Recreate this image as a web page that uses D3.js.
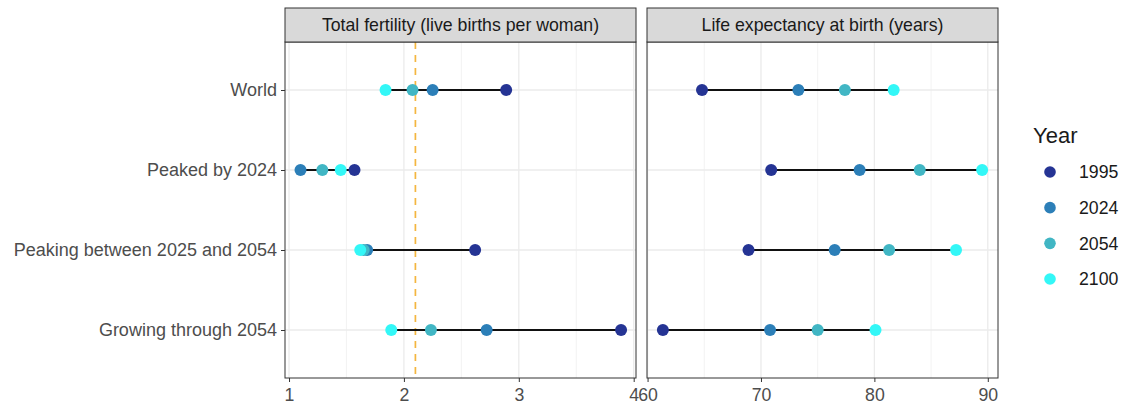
<!DOCTYPE html>
<html>
<head>
<meta charset="utf-8">
<script src="https://cdn.jsdelivr.net/npm/d3@7"></script>
<style>
  body { margin: 0; background: #fff; }
  text { font-family: "Liberation Sans", Arial, sans-serif; }
</style>
</head>
<body>
<svg id="viz_area" width="1129" height="407"></svg>
<script>
const regions = ["World", "Peaked by 2024", "Peaking between 2025 and 2054", "Growing through 2054"]
const years = ["1995", "2024", "2054", "2100"]
const yearColors = ["#253494", "#2c7fb8", "#41b6c4", "#33f7f7"]

// total fertility, one array per year, in region order
const fertility1995 = [2.89, 1.57, 2.62, 3.89]
const fertility2024 = [2.25, 1.10, 1.68, 2.72]
const fertility2054 = [2.075, 1.29, 1.65, 2.235]
const fertility2100 = [1.84, 1.45, 1.62, 1.89]

// life expectancy at birth, one array per year
const life1995 = [64.8, 70.9, 68.9, 61.35]
const life2024 = [73.3, 78.7, 76.5, 70.8]
const life2054 = [77.4, 84.0, 81.3, 75.0]
const life2100 = [81.7, 89.5, 87.2, 80.1]

const fertilityTicks = [1, 2, 3, 4]
const lifeTicks = [60, 70, 80, 90]
const replacementLevel = 2.1

const panelTop = 42, panelBottom = 378, stripTop = 8
const fontSize = 17.7

const svg = d3.select('#viz_area')

const yScale = d3.scalePoint()
  .domain(regions)
  .range([panelTop, panelBottom])
  .padding(0.6)

function buildRows(series) {
  return regions.map(function (r, i) {
    return { region: r, values: series.map(function (s, j) { return { year: years[j], value: s[i] } }) }
  })
}

function drawPanel(opts) {
  const x = d3.scaleLinear().domain(opts.domain).range([opts.left, opts.right])
  const g = svg.append('g')

  g.append('rect')
    .attr('x', opts.left).attr('y', panelTop)
    .attr('width', opts.right - opts.left).attr('height', panelBottom - panelTop)
    .attr('fill', '#fff')

  // minor grid
  g.selectAll('.minor').data(opts.minor).enter().append('line')
    .attr('x1', function (d) { return x(d) }).attr('x2', function (d) { return x(d) })
    .attr('y1', panelTop).attr('y2', panelBottom)
    .attr('stroke', '#f0f0f0').attr('stroke-width', 0.8)
  // major grid
  g.selectAll('.major').data(opts.ticks).enter().append('line')
    .attr('x1', function (d) { return x(d) }).attr('x2', function (d) { return x(d) })
    .attr('y1', panelTop).attr('y2', panelBottom)
    .attr('stroke', '#ebebeb').attr('stroke-width', 1.3)
  g.selectAll('.hgrid').data(regions).enter().append('line')
    .attr('x1', opts.left).attr('x2', opts.right)
    .attr('y1', function (d) { return yScale(d) }).attr('y2', function (d) { return yScale(d) })
    .attr('stroke', '#ebebeb').attr('stroke-width', 1.3)

  if (opts.refLine != null) {
    g.append('line')
      .attr('x1', x(opts.refLine)).attr('x2', x(opts.refLine))
      .attr('y1', panelTop).attr('y2', panelBottom)
      .attr('stroke', '#f4b63f').attr('stroke-width', 1.7)
      .attr('stroke-dasharray', '7,6')
  }

  const rows = buildRows(opts.series)

  g.selectAll('.seg').data(rows).enter().append('line')
    .attr('x1', function (d) { return x(d3.min(d.values, function (v) { return v.value })) })
    .attr('x2', function (d) { return x(d3.max(d.values, function (v) { return v.value })) })
    .attr('y1', function (d) { return yScale(d.region) })
    .attr('y2', function (d) { return yScale(d.region) })
    .attr('stroke', '#111').attr('stroke-width', 1.8)

  years.forEach(function (yr, j) {
    g.selectAll('.pt' + yr).data(rows).enter().append('circle')
      .attr('cx', function (d) { return x(d.values[j].value) })
      .attr('cy', function (d) { return yScale(d.region) })
      .attr('r', 6)
      .attr('fill', yearColors[j])
  })

  // panel border
  g.append('rect')
    .attr('x', opts.left).attr('y', panelTop)
    .attr('width', opts.right - opts.left).attr('height', panelBottom - panelTop)
    .attr('fill', 'none').attr('stroke', '#333').attr('stroke-width', 1)

  // strip
  g.append('rect')
    .attr('x', opts.left).attr('y', stripTop)
    .attr('width', opts.right - opts.left).attr('height', panelTop - stripTop)
    .attr('fill', '#d9d9d9').attr('stroke', '#333').attr('stroke-width', 1)
  g.append('text')
    .attr('x', (opts.left + opts.right) / 2).attr('y', (stripTop + panelTop) / 2)
    .attr('dy', '0.35em').attr('text-anchor', 'middle')
    .attr('font-size', fontSize).attr('fill', '#1a1a1a')
    .text(opts.title)

  const xAxis = g.append('g')
    .attr('transform', 'translate(0,' + panelBottom + ')')
    .call(d3.axisBottom(x).tickValues(opts.ticks).tickSize(4).tickPadding(6).tickFormat(d3.format('d')))
  xAxis.select('.domain').remove()
  xAxis.selectAll('line').attr('stroke', '#333')
  xAxis.selectAll('text').attr('font-size', fontSize).attr('fill', '#4d4d4d')
    .attr('font-family', '"Liberation Sans", Arial, sans-serif')
  return x
}

drawPanel({
  left: 285, right: 636, domain: [0.965, 4.02],
  ticks: fertilityTicks, minor: [1.5, 2.5, 3.5],
  series: [fertility1995, fertility2024, fertility2054, fertility2100],
  title: 'Total fertility (live births per woman)',
  refLine: replacementLevel
})

drawPanel({
  left: 647, right: 998, domain: [59.95, 90.9],
  ticks: lifeTicks, minor: [65, 75, 85],
  series: [life1995, life2024, life2054, life2100],
  title: 'Life expectancy at birth (years)',
  refLine: null
})

const yAxis = svg.append('g')
  .attr('transform', 'translate(285,0)')
  .call(d3.axisLeft(yScale).tickSize(4).tickPadding(4))
yAxis.select('.domain').remove()
yAxis.selectAll('line').attr('stroke', '#333')
yAxis.selectAll('text').attr('font-size', 18).attr('fill', '#4d4d4d')
  .attr('font-family', '"Liberation Sans", Arial, sans-serif')

// legend
const legend = svg.append('g')
legend.append('text')
  .attr('x', 1033).attr('y', 143)
  .attr('font-size', 22).attr('fill', '#1a1a1a')
  .text('Year')
const legendY = d3.scalePoint().domain(years).range([172, 279])
legend.selectAll('circle').data(years).enter().append('circle')
  .attr('cx', 1050).attr('cy', function (d) { return legendY(d) })
  .attr('r', 5.8).attr('fill', function (d, i) { return yearColors[i] })
legend.selectAll('.lab').data(years).enter().append('text')
  .attr('x', 1079).attr('y', function (d) { return legendY(d) })
  .attr('dy', '0.35em').attr('font-size', fontSize).attr('fill', '#1a1a1a')
  .text(function (d) { return d })
</script>
</body>
</html>
